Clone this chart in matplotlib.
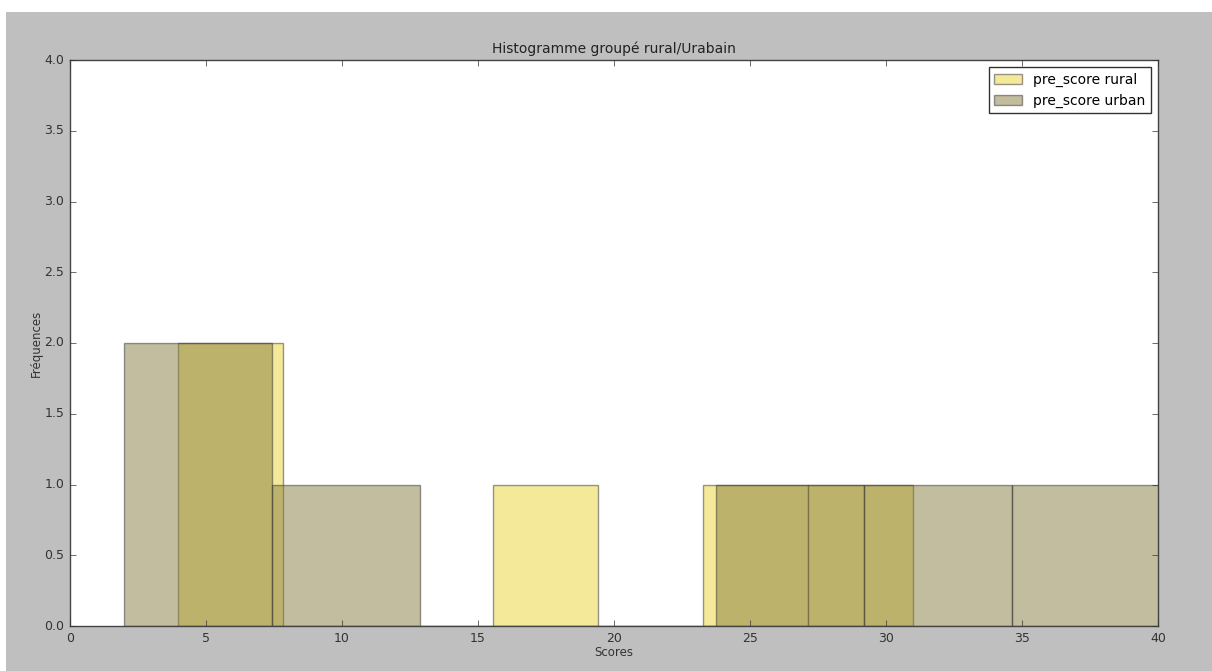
import matplotlib
matplotlib.use("Agg")
import matplotlib.pyplot as plt
from matplotlib.patches import Rectangle
import numpy as np

# Data: histogram bin edges and counts
rural_edges = [3.97, 7.83, 11.69, 15.55, 19.41, 23.27, 27.13, 30.99]
rural_counts = [2, 0, 0, 1, 0, 1, 1]
urban_edges = [1.99, 7.43, 12.87, 18.31, 23.75, 29.19, 34.63, 40.07]
urban_counts = [2, 1, 0, 0, 1, 1, 1]

title = "Histogramme groupé rural/Urabain"
xlabel = "Scores"
ylabel = "Fréquences"
labels = ["pre_score rural", "pre_score urban"]

plt.style.use("classic")
plt.rcParams["font.family"] = ["DejaVu Sans"]

W, H = 1212, 671
fig = plt.figure(figsize=(W / 100, H / 100), dpi=100, facecolor="white")
fig.patches.append(Rectangle((6 / W, 0), 1 - 6 / W, 1 - 12 / H,
                             transform=fig.transFigure, facecolor="#bfbfbf",
                             edgecolor="none", zorder=-10))
ax = fig.add_axes([70 / W, 1 - 626 / H, (1158 - 70) / W, (626 - 60) / H])

rural_mid = [(a + b) / 2 for a, b in zip(rural_edges[:-1], rural_edges[1:])]
urban_mid = [(a + b) / 2 for a, b in zip(urban_edges[:-1], urban_edges[1:])]
ax.hist(rural_mid, bins=rural_edges, weights=rural_counts, color="#ebd335",
        alpha=0.5, edgecolor="#333333", linewidth=1, label=labels[0])
ax.hist(urban_mid, bins=urban_edges, weights=urban_counts, color="#877d41",
        alpha=0.5, edgecolor="#333333", linewidth=1, label=labels[1])

ax.set_xlim(0, 40)
ax.set_ylim(0, 4.0)
ax.set_xticks(np.arange(0, 41, 5))
ax.set_yticks(np.arange(0, 4.01, 0.5))
ax.set_yticklabels([f"{v:.1f}" for v in np.arange(0, 4.01, 0.5)])
ax.tick_params(labelsize=9, colors="#333333", labelcolor="#333333")
for s in ax.spines.values():
    s.set_color("#444444")
ax.set_title(title, fontsize=10, color="#222222", pad=5)
ax.set_xlabel(xlabel, fontsize=8.5, color="#333333", labelpad=1)
ax.set_ylabel(ylabel, fontsize=8.5, color="#333333", labelpad=1)
leg = ax.legend(loc="upper right", fontsize=10, fancybox=False, framealpha=1)
leg.get_frame().set_edgecolor("#333333")

fig.savefig("out.png", dpi=100, facecolor=fig.get_facecolor())
